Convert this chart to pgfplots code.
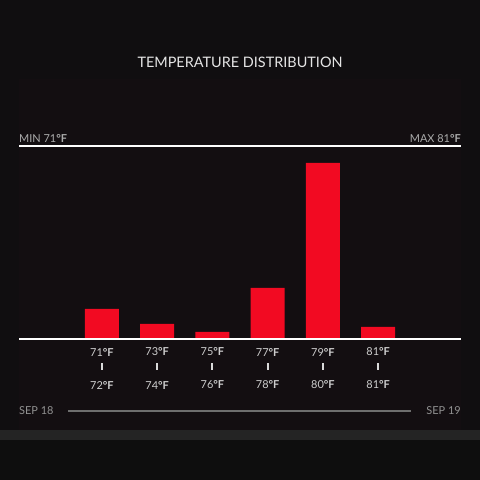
\documentclass[border=0pt]{standalone}
\usepackage{pgfplots}
\pgfplotsset{compat=1.18}
\usepackage{fontspec}
\setmainfont{Lato}
\definecolor{bg}{RGB}{16,14,16}
\definecolor{panel}{RGB}{19,14,17}
\definecolor{strip}{RGB}{36,36,36}
\definecolor{bottom}{RGB}{14,14,14}
\definecolor{barred}{RGB}{242,10,34}
\definecolor{lbl}{RGB}{205,205,205}
\definecolor{minmax}{RGB}{170,170,170}
\definecolor{sep}{RGB}{145,145,145}
\definecolor{sepline}{RGB}{110,110,110}
\newcommand{\dF}{{\bfseries °F}}
\begin{document}
\begin{tikzpicture}[x=1bp,y=1bp]
\fill[bg] (0,0) rectangle (480,480);
\fill[panel] (19,50) rectangle (461,401);
\fill[strip] (0,40) rectangle (480,50);
\fill[bottom] (0,0) rectangle (480,40);
\node[text=white!90!black, font=\fontsize{14.5}{16}\selectfont] at (240,418) {TEMPERATURE DISTRIBUTION};
\begin{axis}[
  at={(19bp,141bp)}, anchor=south west,
  scale only axis,
  width=442bp, height=193bp,
  xmin=-1.5, xmax=6.5, ymin=0, ymax=193,
  axis lines=none,
  ybar, bar width=34bp,
  clip=false,
]
\addplot[fill=barred, draw=none] coordinates {(0,30) (1,15) (2,7) (3,51) (4,176) (5,12)};
\end{axis}
\draw[white, line width=1.5bp] (19,141) -- (461,141);
\draw[white, line width=1.5bp] (19,334) -- (461,334);
\node[anchor=base west, text=minmax, font=\fontsize{11}{12}\selectfont, inner sep=0] at (19,337) {MIN 71\dF};
\node[anchor=base east, text=minmax, font=\fontsize{11}{12}\selectfont, inner sep=0] at (461,337) {MAX 81\dF};
\foreach \i/\a/\b in {0/71/72,1/73/74,2/75/76,3/77/78,4/79/80,5/81/81} {
  \pgfmathsetmacro{\xx}{101.9+55.25*\i}
  \node[text=lbl, font=\fontsize{11}{12}\selectfont] at (\xx,128) {\a\dF};
  \fill[white!85!black] (\xx-1,109.5) rectangle (\xx+1,116.5);
  \node[text=lbl, font=\fontsize{11}{12}\selectfont] at (\xx,95) {\b\dF};
}
\node[anchor=west, text=sep, font=\fontsize{11}{12}\selectfont, inner sep=0] at (19,69) {SEP 18};
\node[anchor=east, text=sep, font=\fontsize{11}{12}\selectfont, inner sep=0] at (461,69) {SEP 19};
\draw[sepline, line width=1.5bp] (68,69) -- (411,69);
\end{tikzpicture}
\end{document}
